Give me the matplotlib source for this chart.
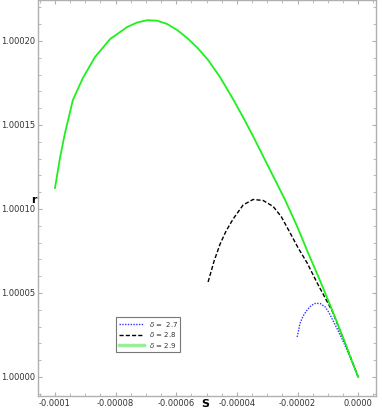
import matplotlib
matplotlib.use("Agg")
import matplotlib.pyplot as plt
from matplotlib.ticker import MultipleLocator, FixedLocator, FixedFormatter

# values
s_27 = [-2.013e-5, -1.9635e-5, -1.914e-5, -1.815e-5, -1.683e-5, -1.551e-5, -1.419e-5,
        -1.254e-5, -1.089e-5, -9.57e-6, -8.25e-6, -6.93e-6, -5.61e-6, -4.29e-6,
        -2.31e-6, 0.0]
r_27 = [1.00002381, 1.00002797, 1.00003214, 1.00003631, 1.00003988, 1.00004256, 1.00004375,
        1.00004375, 1.00004166, 1.00003809, 1.00003333, 1.00002857, 1.00002381, 1.00001845,
        1.00001012, 1.0]

s_28 = [-4.95e-5, -4.752e-5, -4.554e-5, -4.356e-5, -4.125e-5, -3.795e-5, -3.465e-5,
        -3.135e-5, -2.805e-5, -2.541e-5, -2.244e-5, -1.98e-5, -1.683e-5, -1.353e-5,
        -1.089e-5, -8.58e-6, -4.29e-6, 0.0]
r_28 = [1.00005654, 1.00006904, 1.00007916, 1.00008690, 1.00009404, 1.00010237, 1.00010565,
        1.00010505, 1.00010148, 1.00009553, 1.00008571, 1.00007678, 1.00006785, 1.00005595,
        1.00004702, 1.00003928, 1.00001994, 1.0]

s_29 = [-1.0e-4, -9.83e-5, -9.67e-5, -9.41e-5, -9.08e-5, -8.68e-5, -8.18e-5,
        -7.62e-5, -7.29e-5, -6.96e-5, -6.63e-5, -6.30e-5, -5.97e-5, -5.64e-5,
        -5.31e-5, -4.95e-5, -4.55e-5, -4.13e-5, -3.80e-5, -3.47e-5, -2.94e-5,
        -2.41e-5, -2.013e-5, -1.65e-5, -1.254e-5, -8.6e-6, -4.3e-6, -2.31e-6, 0.0]
r_29 = [1.00011249, 1.00013094, 1.00014523, 1.00016487, 1.00017796, 1.00019046, 1.00020118,
        1.00020832, 1.00021100, 1.00021237, 1.00021208, 1.00021011, 1.00020654, 1.00020177,
        1.00019612, 1.00018868, 1.00017832, 1.00016547, 1.00015475, 1.00014344, 1.00012440,
        1.00010535, 1.00008958, 1.00007380, 1.00005714, 1.00003988, 1.00002024, 1.00001042,
        1.0]

labels = ["$\\delta$ =  2.7", "$\\delta$ = 2.8", "$\\delta$ = 2.9"]

x_ticks = [-1.0e-4, -8e-5, -6e-5, -4e-5, -2e-5, 0.0]
x_ticklabels = ["-0.0001", "-0.00008", "-0.00006", "-0.00004", "-0.00002", "0.0000"]
y_ticks = [1.0, 1.00005, 1.0001, 1.00015, 1.0002]
y_ticklabels = ["1.00000", "1.00005", "1.00010", "1.00015", "1.00020"]

fig = plt.figure(figsize=(3.82, 4.09), dpi=100)
ax = fig.add_axes([0.0995, 0.032, 0.885, 0.968])

ax.plot(s_27, r_27, color="#3333ff", ls=(0, (1, 1)), lw=1.0, label=labels[0])
ax.plot(s_28, r_28, color="black", ls=(0, (3, 1.5)), lw=1.0, label=labels[1])
ax.plot(s_29, r_29, color="#1ef01e", lw=1.3, label=labels[2])

ax.set_xlim(-1.056e-4, 5.9e-6)
ax.set_ylim(1.0 - 1.13e-5, 1.0 + 2.244e-4)

ax.xaxis.set_major_locator(FixedLocator(x_ticks))
ax.xaxis.set_major_formatter(FixedFormatter(x_ticklabels))
ax.xaxis.set_minor_locator(MultipleLocator(5e-6))
ax.yaxis.set_major_locator(FixedLocator(y_ticks))
ax.yaxis.set_major_formatter(FixedFormatter(y_ticklabels))
ax.yaxis.set_minor_locator(MultipleLocator(1e-5))

for sp in ax.spines.values():
    sp.set_color("#b0b0b0")
    sp.set_linewidth(1.0)
ax.tick_params(which="both", direction="in", top=True, right=True,
               colors="#b0b0b0", labelcolor="#333333", labelsize=6, pad=2)
ax.tick_params(which="major", length=3)
ax.tick_params(which="minor", length=2)

fig.text(0.088, 0.51, "r", fontsize=8, fontweight="bold", ha="center", va="center")
fig.text(0.537, 0.013, "S", fontsize=8, fontweight="bold", ha="center", va="center")

leg = ax.legend(loc="lower left", bbox_to_anchor=(0.231, 0.111), borderaxespad=0,
                fontsize=5, frameon=True, fancybox=False, edgecolor="#555555",
                handlelength=3.6, handletextpad=0.8, borderpad=0.35, labelspacing=0.2)
leg.get_frame().set_linewidth(0.8)
for t in leg.get_texts():
    t.set_color("#333333")
leg.get_lines()[2].set_color("#99ee99")
leg.get_lines()[2].set_linewidth(2.5)

fig.savefig("out.png", dpi=100)
